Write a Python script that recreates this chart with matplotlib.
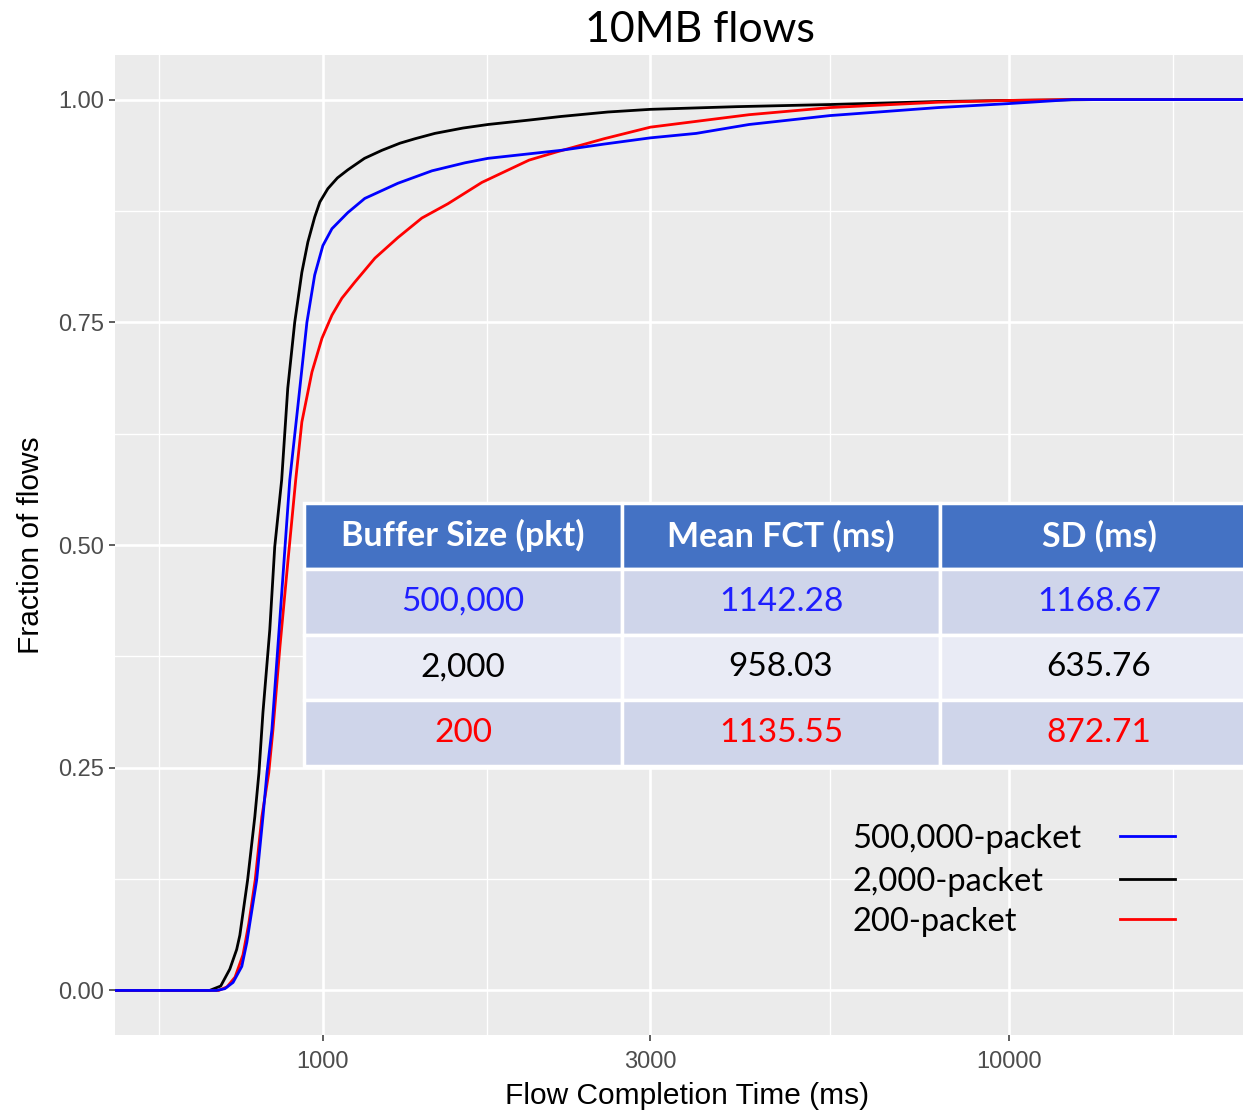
import matplotlib
matplotlib.use("Agg")
import matplotlib.pyplot as plt
from matplotlib.lines import Line2D

# ECDF curves (ms, fraction of flows)
x_2000 = [498, 684, 710, 732, 749, 757, 777, 796, 807, 818, 837, 851, 871, 889, 910,
          932, 951, 973, 990, 1017, 1050, 1087, 1150, 1219, 1295, 1362, 1456, 1600, 1740,
          2000, 2223, 2600, 3000, 4000, 5480, 7880, 10000, 13530, 21900]
y_2000 = [0, 0, 0.005, 0.024, 0.046, 0.062, 0.124, 0.195, 0.244, 0.312, 0.405, 0.498,
          0.573, 0.676, 0.750, 0.806, 0.840, 0.868, 0.885, 0.900, 0.912, 0.921, 0.934,
          0.943, 0.951, 0.956, 0.962, 0.968, 0.972, 0.977, 0.981, 0.986, 0.989, 0.992,
          0.9944, 0.9978, 0.999, 1.0, 1.0]

x_200 = [498, 705, 725, 745, 765, 780, 797, 815, 834, 846, 866, 889, 913, 932, 964,
         997, 1031, 1066, 1113, 1191, 1286, 1394, 1521, 1705, 1997, 2186, 2568, 3000,
         4178, 5480, 7880, 10000, 12360, 21900]
y_200 = [0, 0, 0.004, 0.015, 0.040, 0.075, 0.124, 0.195, 0.244, 0.293, 0.386, 0.480,
         0.573, 0.638, 0.694, 0.732, 0.758, 0.777, 0.795, 0.822, 0.845, 0.867, 0.883,
         0.907, 0.932, 0.941, 0.956, 0.969, 0.983, 0.991, 0.997, 0.999, 1.0, 1.0]

x_500k = [498, 700, 720, 740, 762, 775, 783, 801, 818, 829, 843, 860, 874, 895, 920,
          948, 973, 1000, 1031, 1087, 1151, 1286, 1442, 1611, 1740, 2223, 2568, 3000,
          3498, 4178, 5480, 7880, 10000, 12360, 21900]
y_500k = [0, 0, 0.002, 0.009, 0.027, 0.054, 0.076, 0.124, 0.195, 0.244, 0.293, 0.386,
          0.461, 0.573, 0.657, 0.750, 0.803, 0.836, 0.855, 0.873, 0.889, 0.906, 0.920,
          0.929, 0.934, 0.943, 0.950, 0.957, 0.962, 0.972, 0.982, 0.991, 0.9955, 1.0, 1.0]

labels = ['500,000-packet', '2,000-packet', '200-packet']
colors = ['blue', 'black', 'red']

x_major = [1000, 3000, 10000]
x_minor = [577, 1732, 5477, 17320]
y_major = [0, 0.25, 0.5, 0.75, 1.0]
y_minor = [0.125, 0.375, 0.625, 0.875]

col_labels = ['Buffer Size (pkt)', 'Mean FCT (ms)', 'SD (ms)']
buffers = ['500,000', '2,000', '200']
mean_fct = ['1142.28', '958.03', '1135.55']
sd_fct = ['1168.67', '635.76', '872.71']
row_text_colors = ['#1f1fff', 'black', 'red']

fig = plt.figure(figsize=(12.43, 11.11), dpi=100)
ax = fig.add_axes([115/1243, 76/1111, 1128/1243, 980/1111])
ax.set_facecolor('#ebebeb')
for s in ax.spines.values():
    s.set_visible(False)

ax.set_xscale('log')
ax.set_xlim(498, 21900)
ax.set_ylim(-0.05, 1.05)

ax.set_xticks(x_major)
ax.set_xticklabels([str(v) for v in x_major])
ax.set_xticks(x_minor, minor=True)
ax.set_xticklabels([], minor=True)
ax.set_yticks(y_major)
ax.set_yticklabels(['%.2f' % v for v in y_major])
ax.set_yticks(y_minor, minor=True)

ax.grid(which='major', color='white', linewidth=1.9)
ax.grid(which='minor', color='white', linewidth=0.95)
ax.set_axisbelow(True)
ax.tick_params(which='major', length=4.5, width=1.1, color='#333333',
               labelsize=17, labelcolor='#4d4d4d')
ax.tick_params(axis='x', which='major', pad=7)
ax.tick_params(which='minor', length=0)
for lab in ax.get_xticklabels() + ax.get_yticklabels():
    lab.set_family('Liberation Sans')

ax.plot(x_2000, y_2000, color='black', lw=2.0)
ax.plot(x_200, y_200, color='red', lw=2.0)
ax.plot(x_500k, y_500k, color='blue', lw=2.0)

ax.set_xlabel('Flow Completion Time (ms)', fontsize=21.5, family='Liberation Sans')
ax.xaxis.set_label_coords((687 - 115) / 1128, -0.048)
ax.set_ylabel('Fraction of flows', fontsize=21.5, family='Liberation Sans')
ax.yaxis.set_label_coords(-0.062, 0.5)

fig.text(700/1243, 1 - 42/1111, '10MB flows', ha='center', va='baseline',
         fontsize=31, family='Lato')

# summary table
cell_text = [[buffers[i], mean_fct[i], sd_fct[i]] for i in range(3)]
tab = ax.table(cellText=cell_text, colLabels=col_labels, cellLoc='center',
               bbox=[(304 - 115) / 1128, (1035 - 766) / 980, 954 / 1128, 263 / 980])
tab.set_zorder(10)
tab.auto_set_font_size(False)
row_bg = ['#cfd5ea', '#e9ebf5', '#cfd5ea']
for (r, c), cell in tab.get_celld().items():
    cell.set_edgecolor('white')
    cell.set_linewidth(2.5)
    cell.set_clip_on(False)
    t = cell.get_text()
    t.set_family('Lato')
    if r == 0:
        cell.set_facecolor('#4472c4')
        t.set_fontsize(24.5)
        t.set_color('white')
        t.set_weight('bold')
    else:
        cell.set_facecolor(row_bg[r - 1])
        t.set_fontsize(24)
        t.set_color(row_text_colors[r - 1])

# legend: labels on the left, keys on the right
leg_rows = [836, 879, 919]
for lab, col, yy in zip(labels, colors, leg_rows):
    fig.text(852/1243, 1 - (yy + 12)/1111, lab, ha='left', va='baseline',
             fontsize=23.5, family='Lato')
    fig.add_artist(Line2D([1120/1243, 1175/1243], [1 - yy/1111, 1 - yy/1111],
                          color=col, lw=2.0, transform=fig.transFigure))

fig.savefig('out.png', dpi=100)
